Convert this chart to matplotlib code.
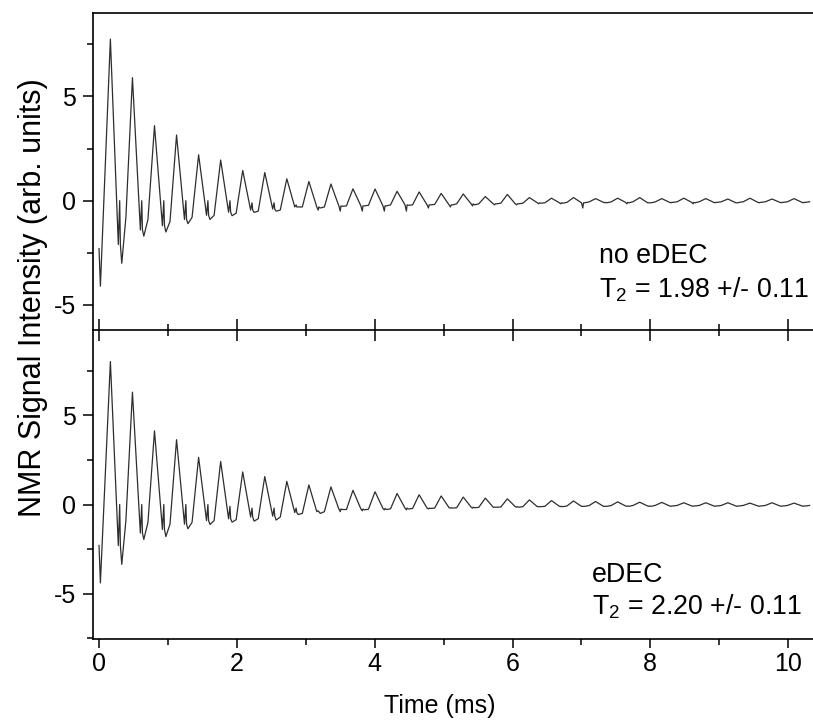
import matplotlib
matplotlib.use("Agg")
import matplotlib.pyplot as plt
from matplotlib import font_manager
from matplotlib.ticker import MultipleLocator

plt.rcParams['font.family'] = ['Liberation Sans', 'DejaVu Sans']
plt.rcParams['axes.unicode_minus'] = False
plt.rcParams['mathtext.fontset'] = 'custom'
plt.rcParams['mathtext.rm'] = 'Liberation Sans'

_names = {f.name for f in font_manager.fontManager.ttflist}
narrow_family = ['Liberation Sans Narrow', 'Liberation Sans'] if 'Liberation Sans Narrow' in _names else ['Liberation Sans']

# ---- data ----
echo_start = 0.165      # ms, time of first echo maximum
echo_spacing = 0.32     # ms
start_times = [0.0, 0.02]

top_start = [-2.3, -4.1]
top_peaks = [7.75, 5.90, 3.60, 3.15, 2.20, 1.95, 1.45, 1.35, 1.05, 0.92,
             0.80, 0.57, 0.56, 0.45, 0.42, 0.35, 0.32, 0.20, 0.30, 0.15,
             0.12, 0.15, 0.10, 0.12, 0.15, 0.10, 0.12, 0.10, 0.08, 0.12,
             0.08, 0.10]
top_pre = [-2.1, -1.4, -1.2, -0.9, -0.7, -0.55, -0.45, -0.40, -0.30, -0.30,
           -0.25, -0.25, -0.25, -0.20, -0.20, -0.20, -0.15, -0.15, -0.15, -0.10,
           -0.10, -0.10, -0.08, -0.08, -0.10, -0.08, -0.08, -0.08, -0.10, -0.08,
           -0.08, -0.08]
top_spike = [0.0, 0.0, 0.0, 0.0, 0.0, 0.0, -0.1, -0.1, -0.2, -0.45,
             -0.5, -0.5, -0.5, -0.5, -0.35, -0.3, -0.25, -0.2, -0.2, -0.15,
             -0.15, -0.35, -0.1, -0.15, -0.1, -0.1, -0.15, -0.1, -0.1, -0.1,
             -0.1, -0.1]
top_post = [-3.0, -1.7, -1.5, -1.1, -0.9, -0.72, -0.56, -0.50, -0.30, -0.35,
            -0.27, -0.25, -0.25, -0.22, -0.20, -0.20, -0.20, -0.15, -0.15, -0.12,
            -0.12, -0.10, -0.10, -0.10, -0.10, -0.08, -0.10, -0.08, -0.08, -0.08,
            -0.08, -0.08]
top_base = [-0.8, -0.9, -1.0, -0.8, -0.7, -0.6, -0.5, -0.45, -0.30, -0.30,
            -0.25, -0.22, -0.20, -0.20, -0.18, -0.15, -0.15, -0.12, -0.12, -0.10,
            -0.08, -0.06, -0.06, -0.05, -0.06, -0.05, -0.05, -0.05, -0.05, -0.05,
            -0.05, -0.05]

bot_start = [-2.3, -4.4]
bot_peaks = [8.03, 6.31, 4.14, 3.64, 2.65, 2.42, 1.83, 1.57, 1.30, 1.10,
             0.99, 0.80, 0.72, 0.62, 0.55, 0.48, 0.42, 0.36, 0.32, 0.26,
             0.22, 0.20, 0.17, 0.15, 0.13, 0.12, 0.10, 0.10, 0.10, 0.08,
             0.10, 0.08]
bot_pre = [-2.3, -1.6, -1.4, -1.1, -0.9, -0.8, -0.7, -0.65, -0.45, -0.40,
           -0.25, -0.25, -0.22, -0.20, -0.20, -0.18, -0.15, -0.15, -0.12, -0.12,
           -0.10, -0.10, -0.10, -0.08, -0.08, -0.08, -0.08, -0.08, -0.08, -0.08,
           -0.08, -0.08]
bot_spike = [0.0, 0.0, 0.0, 0.0, 0.0, -0.1, -0.2, -0.2, -0.2, -0.35,
             -0.4, -0.35, -0.3, -0.3, -0.25, -0.2, -0.2, -0.15, -0.15, -0.12,
             -0.12, -0.1, -0.1, -0.1, -0.1, -0.1, -0.1, -0.1, -0.1, -0.1,
             -0.1, -0.1]
bot_post = [-3.36, -1.96, -1.80, -1.36, -1.12, -0.99, -0.93, -0.87, -0.56, -0.50,
            -0.28, -0.30, -0.28, -0.25, -0.22, -0.20, -0.18, -0.15, -0.15, -0.12,
            -0.12, -0.10, -0.10, -0.10, -0.10, -0.08, -0.08, -0.08, -0.08, -0.08,
            -0.08, -0.08]
bot_base = [-0.9, -1.0, -1.1, -1.0, -0.9, -0.85, -0.8, -0.7, -0.5, -0.4,
            -0.28, -0.26, -0.24, -0.22, -0.20, -0.18, -0.16, -0.14, -0.12, -0.10,
            -0.08, -0.06, -0.06, -0.05, -0.05, -0.05, -0.05, -0.05, -0.05, -0.05,
            -0.05, -0.05]

top_label = ["no eDEC", "T$_\\mathregular{2}$ = 1.98 +/- 0.11"]
bot_label = ["eDEC", "T$_\\mathregular{2}$ = 2.20 +/- 0.11"]


def build_trace(start_v, peaks, pre, spike, post, base):
    t = list(start_times)
    v = list(start_v)
    for k in range(len(peaks)):
        tp = echo_start + k * echo_spacing
        t += [tp, tp + 0.115, tp + 0.135, tp + 0.145, tp + 0.165, tp + 0.225]
        v += [peaks[k], pre[k], spike[k], pre[k], post[k], base[k]]
    return t, v


W, H = 813, 721
fig = plt.figure(figsize=(W / 100, H / 100), dpi=100)
left_px, right_px = 93.3, 813
top_px, mid_px, bot_px = 13, 330, 639
ax1 = fig.add_axes([left_px / W, 1 - mid_px / H, (right_px - left_px) / W, (mid_px - top_px) / H])
ax2 = fig.add_axes([left_px / W, 1 - bot_px / H, (right_px - left_px) / W, (bot_px - mid_px) / H])

line_color = '#2e2e2e'
t, v = build_trace(top_start, top_peaks, top_pre, top_spike, top_post, top_base)
ax1.plot(t, v, color=line_color, lw=0.9)
t, v = build_trace(bot_start, bot_peaks, bot_pre, bot_spike, bot_post, bot_base)
ax2.plot(t, v, color=line_color, lw=0.9)

for ax in (ax1, ax2):
    ax.set_xlim(-0.083, 10.36)
    ax.xaxis.set_major_locator(MultipleLocator(2))
    ax.xaxis.set_minor_locator(MultipleLocator(1))
    ax.yaxis.set_major_locator(MultipleLocator(5))
    ax.yaxis.set_minor_locator(MultipleLocator(2.5))
    ax.spines['right'].set_visible(False)
    for s in ax.spines.values():
        s.set_linewidth(1.2)
    ax.tick_params(axis='y', which='major', direction='out', length=7.5, width=1.1, labelsize=18, pad=5)
    ax.tick_params(axis='y', which='minor', direction='out', length=4.5, width=1.1)
    ax.patch.set_alpha(0)
    for lab in ax.get_xticklabels() + ax.get_yticklabels():
        lab.set_family(narrow_family)

ax1.set_ylim(-6.2, 9.0)
ax2.set_ylim(-7.55, 9.8)
ax2.spines['top'].set_visible(False)

ax1.tick_params(axis='x', which='major', direction='inout', length=16, width=1.1, labelbottom=False)
ax1.tick_params(axis='x', which='minor', direction='inout', length=8, width=1.1)
ax2.tick_params(axis='x', which='major', direction='out', length=6.5, width=1.1, labelsize=18, pad=3)
ax2.tick_params(axis='x', which='minor', direction='out', length=4, width=1.1)

fig.text(440 / W, 1 - 706 / H, "Time (ms)", ha='center', va='center', fontsize=18, family=narrow_family)
fig.text(33 / W, 1 - 298 / H, "NMR Signal Intensity (arb. units)", rotation=90,
         ha='center', va='center', fontsize=22)

fig.text(599 / W, 1 - 256 / H, top_label[0], fontsize=19.3, ha='left', va='center')
fig.text(599 / W, 1 - 290 / H, top_label[1], fontsize=19.3, ha='left', va='center')
fig.text(592 / W, 1 - 575 / H, bot_label[0], fontsize=19.3, ha='left', va='center')
fig.text(592 / W, 1 - 607 / H, bot_label[1], fontsize=19.3, ha='left', va='center')

fig.savefig("out.png", dpi=100)
